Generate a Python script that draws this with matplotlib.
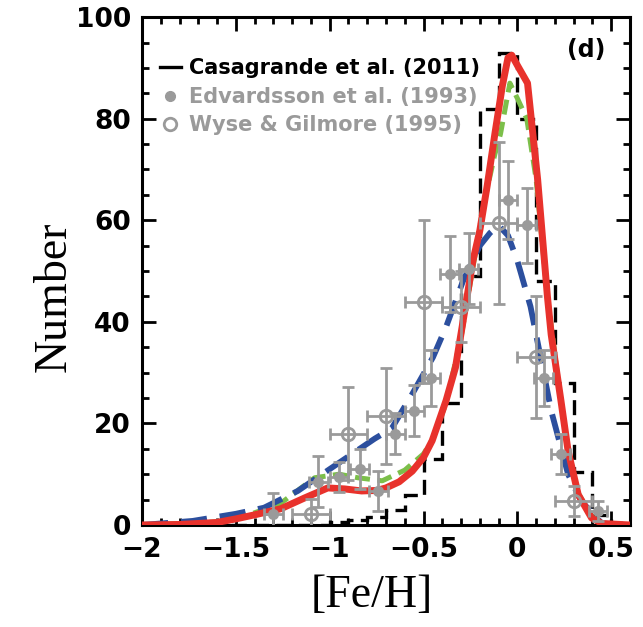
import matplotlib
matplotlib.use("Agg")
import matplotlib.pyplot as plt
from matplotlib.lines import Line2D
from matplotlib.ticker import MultipleLocator

# Casagrande et al. (2011) histogram, bins of 0.1 dex
cas_edges = [-2.0, -1.9, -1.8, -1.7, -1.6, -1.5, -1.4, -1.3, -1.2, -1.1, -1.0,
             -0.9, -0.8, -0.7, -0.6, -0.5, -0.4, -0.3, -0.2, -0.1, 0.0,
             0.1, 0.2, 0.3, 0.4, 0.5, 0.6]
cas_counts = [0, 0, 0, 0, 0, 0, 0, 0, 0, 0, 0.5,
              1, 1.5, 3, 6, 13, 24, 49, 82, 93,
              80, 48, 28, 10.5, 2, 0]

# Edvardsson et al. (1993), filled points
edv_x = [-1.30, -1.06, -0.95, -0.84, -0.74, -0.65, -0.55, -0.46, -0.36, -0.26,
         -0.05, 0.05, 0.14, 0.23, 0.43]
edv_y = [2.2, 8.5, 9.5, 11.0, 6.7, 18.0, 22.5, 29.0, 49.5, 50.5,
         64.0, 59.0, 29.0, 14.0, 2.8]
edv_yerr = [4, 5, 3, 4, 4, 4, 5, 5.5, 7.5, 7,
            7.6, 7.4, 5.5, 4, 2]
edv_xerr = 0.05

# Wyse & Gilmore (1995), open points
wg_x = [-1.1, -0.9, -0.7, -0.5, -0.3, -0.1, 0.1, 0.3]
wg_y = [2.2, 18.0, 21.5, 44.0, 43.0, 59.5, 33.0, 4.7]
wg_yerr = [3, 9.2, 9.5, 16, 7, 16, 12, 3]
wg_xerr = 0.1

# model curves
red_x = [-2.0, -1.8, -1.6, -1.5, -1.4, -1.26, -1.135, -1.01, -0.92, -0.83, -0.75,
         -0.70, -0.63, -0.56, -0.50, -0.454, -0.38, -0.33, -0.29, -0.237, -0.2,
         -0.16, -0.12, -0.08, -0.05, -0.03, 0.0, 0.054, 0.108, 0.16, 0.18,
         0.232, 0.27, 0.324, 0.395, 0.45, 0.6]
red_y = [0, 0.1, 0.5, 1.2, 2.0, 3.2, 5.3, 7.3, 7.1, 6.7, 6.8,
         7.3, 8.5, 10.6, 13.3, 16.6, 24.5, 31, 40, 52, 58,
         67, 77, 86.5, 92, 92.5, 90.5, 87, 68, 45, 37.5,
         24.5, 14.6, 6, 1.4, 0.3, 0]

green_x = [-2.0, -1.6, -1.4, -1.26, -1.08, -0.95, -0.85, -0.72, -0.6, -0.5,
           -0.45, -0.38, -0.3, -0.24, -0.18, -0.12, -0.09, -0.04, 0.0, 0.05,
           0.1, 0.16, 0.23, 0.27, 0.32, 0.4, 0.45, 0.6]
green_y = [0, 0.6, 2.4, 4.3, 9.3, 10, 9.3, 8.7, 10.8, 14,
           17, 24, 37, 50, 63, 73, 77, 87, 84, 80,
           68, 45, 25, 15, 6.5, 1.5, 0.3, 0]

blue_x = [-2.0, -1.73, -1.5, -1.35, -1.17, -1.0, -0.76, -0.67, -0.56, -0.45,
          -0.38, -0.29, -0.2, -0.146, -0.1, -0.05, 0.0, 0.07, 0.14, 0.18,
          0.27, 0.34, 0.45, 0.6]
blue_y = [0, 0.8, 2.2, 3.4, 6.7, 11, 17, 19, 25.8, 33,
          39, 48, 55, 57.5, 59, 57, 52, 43, 30, 22.5,
          10, 4.7, 0.3, 0]

grey = "#9a9a9a"

fig = plt.figure(figsize=(6.43, 6.27), dpi=100)
ax = fig.add_axes([0.2208, 0.1627, 0.759, 0.810])

hist = ax.stairs(cas_counts, cas_edges, color="black", lw=2.4, zorder=2)
hist.set_linestyle((0, (4.5, 2.2)))

ax.plot(green_x, green_y, color="#7cbf4a", lw=3.6, dashes=(3, 1.5), zorder=3)
ax.plot(blue_x, blue_y, color="#2c4f9e", lw=4.2, dashes=(4.5, 2.2), zorder=4)
ax.plot(red_x, red_y, color="#e8322c", lw=5, zorder=5)

ax.errorbar(edv_x, edv_y, yerr=edv_yerr, xerr=edv_xerr, fmt="o", color=grey,
            ms=7, elinewidth=2, capsize=4, capthick=2, zorder=6)
ax.errorbar(wg_x, wg_y, yerr=wg_yerr, xerr=wg_xerr, fmt="o", color=grey,
            mfc="none", mec=grey, mew=2, ms=9, elinewidth=2, capsize=4,
            capthick=2, zorder=6)

ax.set_xlim(-2.0, 0.6)
ax.set_ylim(0, 100)
ax.xaxis.set_minor_locator(MultipleLocator(0.1))
ax.yaxis.set_major_locator(MultipleLocator(20))
ax.yaxis.set_minor_locator(MultipleLocator(5))
ax.set_xticks([-2, -1.5, -1, -0.5, 0, 0.5])
ax.set_xticklabels(["\u22122", "\u22121.5", "\u22121", "\u22120.5", "0", "0.5"])

ax.tick_params(which="both", direction="in", top=True, right=True, width=2)
ax.tick_params(which="major", length=10, labelsize=19)
ax.tick_params(axis="x", which="major", pad=9)
ax.tick_params(axis="y", which="major", pad=8)
ax.tick_params(which="minor", length=5)
for lab in ax.get_xticklabels() + ax.get_yticklabels():
    lab.set_fontweight("bold")
for s in ax.spines.values():
    s.set_linewidth(2.2)

ax.set_xlabel("[Fe/H]", fontsize=33, family="Liberation Serif")
ax.set_ylabel("Number", fontsize=33, family="Liberation Serif")
ax.xaxis.set_label_coords(0.471, -0.098)
ax.yaxis.set_label_coords(-0.135, 0.449)

handles = [
    Line2D([], [], color="black", lw=2.4),
    Line2D([], [], ls="none", marker="o", color=grey, ms=7),
    Line2D([], [], ls="none", marker="o", mfc="none", mec=grey, mew=2, ms=9),
]
labels = ["Casagrande et al. (2011)", "Edvardsson et al. (1993)", "Wyse & Gilmore (1995)"]
leg = ax.legend(handles, labels, loc="upper left", bbox_to_anchor=(0.02, 0.935),
                frameon=False, handlelength=1.0, handletextpad=0.4,
                labelspacing=0.4, borderaxespad=0,
                prop={"weight": "bold", "size": 15})
for t, c in zip(leg.get_texts(), ["black", grey, grey]):
    t.set_color(c)

ax.text(0.949, 0.935, "(d)", transform=ax.transAxes, ha="right", va="center",
        fontsize=17, fontweight="bold")

fig.savefig("out.png", dpi=100)
